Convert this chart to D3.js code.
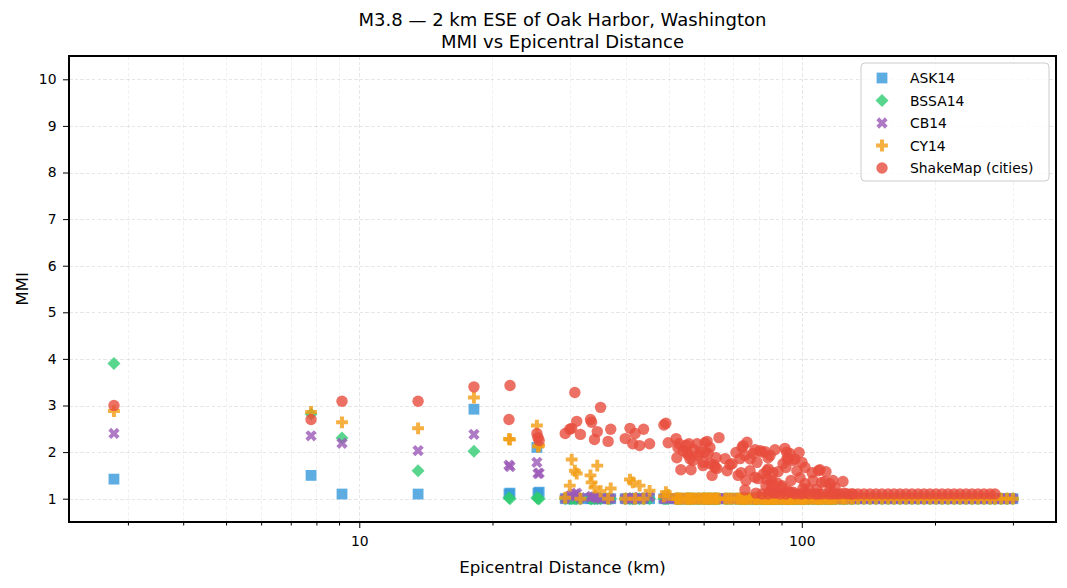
<!DOCTYPE html>
<html>
<head>
<meta charset="utf-8">
<script src="https://cdn.jsdelivr.net/npm/d3@7"></script>
<style>
  body { margin: 0; background: #fff; }
  svg { font-family: "DejaVu Sans", sans-serif; }
</style>
</head>
<body>
<div id="chart"></div>
<script>

// epicentral distance of every city (km)
var distKm = [
  2.79, 7.78, 9.14, 13.58, 18.16, 21.79, 21.91, 25.2, 25.34, 25.5,
  29.2, 29.9, 30.2, 30.7, 31.0, 31.6,
  33.3, 33.5, 34.0, 34.5, 35.1, 36.5, 37.0,
  39.9, 40.9, 41.5, 42.0, 43.0, 43.9, 45.3,
  48.8, 49.3, 49.9, 52.0, 52.2, 52.5, 52.8, 53.3, 53.9, 54.8,
  55.3, 55.6, 56.2, 56.8, 57.1, 58.0, 58.9, 59.8, 60.4, 61.1,
  61.4, 62.0, 62.7, 63.3, 64.0, 64.3, 65.0, 67.1, 67.8, 68.8,
  69.6, 71.0, 71.8, 72.5, 72.9, 73.3, 73.7, 74.4, 74.8, 75.2,
  76.4, 77.6, 78.4, 79.2, 79.6, 80.5, 82.6, 83.0, 83.4, 83.9,
  84.8, 85.6, 86.1, 87.0, 87.4, 87.9, 88.4, 90.2, 90.7, 91.6,
  92.1, 92.6, 93.1, 94.0, 94.5, 95.5, 97.5, 98.6, 99.1, 100.1,
  100.6, 101.7, 105.5, 106.0, 108.2, 109.9, 112.8, 113.4, 115.8, 117.6,
  123.9,
  78.8, 81.3, 89.3, 96.5, 103.8, 107.1, 111.1, 114.6, 119.5, 122.0,
  126.5, 130.5, 134.0, 138.2, 142.6, 147.1, 151.8, 156.7, 161.6, 166.7,
  172.0, 177.4, 183.1, 188.9, 194.9, 201.1, 207.5, 214.1, 220.9, 227.8,
  235.1, 242.5, 250.2, 258.1, 266.3, 273.3,
  55.0, 55.9, 58.4, 59.9, 60.4, 62.0, 63.7, 74.4, 76.4, 78.4,
  81.2, 81.9, 83.3, 84.0, 84.8, 85.5, 90.1, 92.4, 93.2, 95.7,
  96.5, 101.7, 103.5, 109.0, 110.9, 115.8, 118.9,
  83.9, 86.5, 92.1, 94.0, 99.6, 101.2, 108.8, 117.0, 124.6, 129.2,
  282.0, 290.9, 300.0
];

var ask14 = [
  1.42, 1.50, 1.10, 1.10, 2.92, 1.10, 1.12, 2.10, 1.12, 1.14,
  1, 1, 1, 1, 1, 1,
  1, 1, 1, 1, 1, 1, 1,
  1, 1, 1, 1, 1, 1, 1,
  1, 1, 1, 1, 1, 1, 1, 1, 1, 1,
  1, 1, 1, 1, 1, 1, 1, 1, 1, 1,
  1, 1, 1, 1, 1, 1, 1, 1, 1, 1,
  1, 1, 1, 1, 1, 1, 1, 1, 1, 1,
  1, 1, 1, 1, 1, 1, 1, 1, 1, 1,
  1, 1, 1, 1, 1, 1, 1, 1, 1, 1,
  1, 1, 1, 1, 1, 1, 1, 1, 1, 1,
  1, 1, 1, 1, 1, 1, 1, 1, 1, 1,
  1,
  1, 1, 1, 1, 1, 1, 1, 1, 1, 1,
  1, 1, 1, 1, 1, 1, 1, 1, 1, 1,
  1, 1, 1, 1, 1, 1, 1, 1, 1, 1,
  1, 1, 1, 1, 1, 1,
  1, 1, 1, 1, 1, 1, 1, 1, 1, 1,
  1, 1, 1, 1, 1, 1, 1, 1, 1, 1,
  1, 1, 1, 1, 1, 1, 1,
  1, 1, 1, 1, 1, 1, 1, 1, 1, 1,
  1, 1, 1
];

var bssa14 = [
  3.90, 2.82, 2.30, 1.60, 2.02, 1.02, 1.00, 1.02, 1.00, 1.00,
  1, 1, 1, 1, 1, 1,
  1, 1, 1, 1, 1, 1, 1,
  1, 1, 1, 1, 1, 1, 1,
  1, 1, 1, 1, 1, 1, 1, 1, 1, 1,
  1, 1, 1, 1, 1, 1, 1, 1, 1, 1,
  1, 1, 1, 1, 1, 1, 1, 1, 1, 1,
  1, 1, 1, 1, 1, 1, 1, 1, 1, 1,
  1, 1, 1, 1, 1, 1, 1, 1, 1, 1,
  1, 1, 1, 1, 1, 1, 1, 1, 1, 1,
  1, 1, 1, 1, 1, 1, 1, 1, 1, 1,
  1, 1, 1, 1, 1, 1, 1, 1, 1, 1,
  1,
  1, 1, 1, 1, 1, 1, 1, 1, 1, 1,
  1, 1, 1, 1, 1, 1, 1, 1, 1, 1,
  1, 1, 1, 1, 1, 1, 1, 1, 1, 1,
  1, 1, 1, 1, 1, 1,
  1, 1, 1, 1, 1, 1, 1, 1, 1, 1,
  1, 1, 1, 1, 1, 1, 1, 1, 1, 1,
  1, 1, 1, 1, 1, 1, 1,
  1, 1, 1, 1, 1, 1, 1, 1, 1, 1,
  1, 1, 1
];

var cb14 = [
  2.40, 2.35, 2.19, 2.03, 2.38, 1.72, 1.69, 1.78, 1.54, 1.55,
  1.00, 1.05, 1.08, 1.10, 1.12, 1.02,
  1.03, 1.05, 1.04, 1.02, 1.00, 1.00, 1.00,
  1.00, 1.00, 1.02, 1.00, 1.02, 1.00, 1.04,
  1, 1, 1, 1, 1, 1, 1, 1, 1, 1,
  1, 1, 1, 1, 1, 1, 1, 1, 1, 1,
  1, 1, 1, 1, 1, 1, 1, 1, 1, 1,
  1, 1, 1, 1, 1, 1, 1, 1, 1, 1,
  1, 1, 1, 1, 1, 1, 1, 1, 1, 1,
  1, 1, 1, 1, 1, 1, 1, 1, 1, 1,
  1, 1, 1, 1, 1, 1, 1, 1, 1, 1,
  1, 1, 1, 1, 1, 1, 1, 1, 1, 1,
  1,
  1, 1, 1, 1, 1, 1, 1, 1, 1, 1,
  1, 1, 1, 1, 1, 1, 1, 1, 1, 1,
  1, 1, 1, 1, 1, 1, 1, 1, 1, 1,
  1, 1, 1, 1, 1, 1,
  1, 1, 1, 1, 1, 1, 1, 1, 1, 1,
  1, 1, 1, 1, 1, 1, 1, 1, 1, 1,
  1, 1, 1, 1, 1, 1, 1,
  1, 1, 1, 1, 1, 1, 1, 1, 1, 1,
  1, 1, 1
];

var cy14 = [
  2.88, 2.86, 2.64, 2.51, 3.17, 2.28, 2.27, 2.57, 2.12, 2.14,
  1.02, 1.28, 1.84, 1.60, 1.54, 1.00,
  1.50, 1.35, 1.24, 1.71, 1.16, 1.00, 1.22,
  1.00, 1.41, 1.35, 1.00, 1.28, 1.00, 1.17,
  1.05, 1.14, 1.08, 1, 1, 1, 1, 1, 1, 1,
  1, 1, 1, 1, 1, 1, 1, 1, 1, 1,
  1, 1, 1, 1, 1, 1, 1, 1, 1, 1,
  1, 1, 1, 1, 1, 1, 1, 1, 1, 1,
  1, 1, 1, 1, 1, 1, 1, 1, 1, 1,
  1, 1, 1, 1, 1, 1, 1, 1, 1, 1,
  1, 1, 1, 1, 1, 1, 1, 1, 1, 1,
  1, 1, 1, 1, 1, 1, 1, 1, 1, 1,
  1,
  1, 1, 1, 1, 1, 1, 1, 1, 1, 1,
  1, 1, 1, 1, 1, 1, 1, 1, 1, 1,
  1, 1, 1, 1, 1, 1, 1, 1, 1, 1,
  1, 1, 1, 1, 1, 1,
  1, 1, 1, 1, 1, 1, 1, 1, 1, 1,
  1, 1, 1, 1, 1, 1, 1, 1, 1, 1,
  1, 1, 1, 1, 1, 1, 1,
  1, 1, 1, 1, 1, 1, 1, 1, 1, 1,
  1, 1, 1
];

// observed ShakeMap intensity at the cities (null = no city value)
var shakemap = [
  3.00, 2.70, 3.09, 3.09, 3.40, 2.70, 3.43, 2.40, 2.31, 2.25,
  2.40, 2.49, 2.51, 3.28, 2.66, 2.38,
  2.70, 2.64, 2.27, 2.44, 2.96, 2.23, 2.49,
  2.29, 2.51, 2.18, 2.40, 2.14, 2.49, 2.18,
  2.58, 2.62, 2.20, 2.29, 1.88, 2.10, 2.18, 1.62, 2.03, 2.15,
  1.95, 2.18, 1.62, 1.82, 2.05, 2.18, 1.99, 1.71, 2.20, 2.23,
  1.97, 2.10, 1.50, 1.73, 1.88, 1.65, 2.31, 1.86, 1.60, 1.73,
  1.75, 1.99, 1.50, 1.86, 1.56, 2.10, 2.14, 1.19, 1.39, 2.21,
  1.60, 1.97, 2.05, 1.78, 1.43, 2.03, 2.01, 1.28, 1.60, 1.88,
  1.17, 1.39, 1.56, 2.05, 1.13, 1.34, 1.58, 1.28, 1.75, 2.08,
  1.67, 1.86, 1.17, 1.97, 1.39, 1.82, 1.60, 1.99, 1.45, 1.78,
  1.22, 1.67, 1.56, 1.39, 1.20, 1.62, 1.37, 1.58, 1.22, 1.39,
  1.37,
  1.12, 1.10, 1.10, 1.10, 1.10, 1.10, 1.10, 1.10, 1.10, 1.10,
  1.10, 1.10, 1.10, 1.10, 1.10, 1.10, 1.10, 1.10, 1.10, 1.10,
  1.10, 1.10, 1.10, 1.10, 1.10, 1.10, 1.10, 1.10, 1.10, 1.10,
  1.10, 1.10, 1.10, 1.10, 1.10, 1.10,
  2.00, 1.85, 1.93, 1.78, 2.00, 1.75, 1.67, 1.93, 1.85, 1.46,
  2.00, 1.53, 1.42, 1.64, 1.93, 1.32, 1.24, 2.00, 1.85, 1.14,
  1.85, 1.32, 1.21, 1.60, 1.35, 1.32, 1.24,
  1.10, 1.12, 1.10, 1.14, 1.10, 1.12, 1.10, 1.10, 1.12, 1.10,
  null, null, null
];

var seriesNames = ["ASK14", "BSSA14", "CB14", "CY14", "ShakeMap (cities)"];
var yTicks = [1, 2, 3, 4, 5, 6, 7, 8, 9, 10];
var xTicks = [10, 100];

function markerPath( kind ){

  if (kind === "square") return "M-5.4,-5.4H5.4V5.4H-5.4Z";
  if (kind === "diamond") return "M0,-6.5L6.5,0L0,6.5L-6.5,0Z";
  if (kind === "circle") return d3.symbol(d3.symbolCircle, Math.PI * 5.7 * 5.7)();

  // filled plus ("P") and filled x ("X"), arm thickness = 1/3 of width
  var h = kind === "x" ? 6.0 : 5.9, t = h / 3;
  var p = [[-t,-h],[t,-h],[t,-t],[h,-t],[h,t],[t,t],[t,h],[-t,h],[-t,t],[-h,t],[-h,-t],[-t,-t]];
  if (kind === "x") {
    var c = Math.SQRT1_2;
    p = p.map(function(q){ return [ (q[0] - q[1]) * c, (q[0] + q[1]) * c ]; });
  }
  return "M" + p.map(function(q){ return q[0].toFixed(2) + "," + q[1].toFixed(2); }).join("L") + "Z";
}

function renderChart(){

  var width = 1067, height = 588;
  var left = 69, right = 1056, top = 56, bottom = 522;

  var series = [
    { name: seriesNames[0], values: ask14,    color: "#3498db", kind: "square" },
    { name: seriesNames[1], values: bssa14,   color: "#2ecc71", kind: "diamond" },
    { name: seriesNames[2], values: cb14,     color: "#9b59b6", kind: "x" },
    { name: seriesNames[3], values: cy14,     color: "#f39c12", kind: "plus" },
    { name: seriesNames[4], values: shakemap, color: "#e74c3c", kind: "circle" }
  ];

  series.forEach(function(s){
    if (s.values.length !== distKm.length) console.warn(s.name + " length " + s.values.length + " vs " + distKm.length);
  });

  var x = d3.scaleLog().domain([2.208, 375.4]).range([left, right]);
  var y = d3.scaleLinear().domain([0.5, 10.5]).range([bottom, top]);

  var svg = d3.select("#chart").append("svg")
      .attr("width", width)
      .attr("height", height);

  svg.append("rect").attr("width", width).attr("height", height).attr("fill", "#fff");

  // grid: major + minor on the log axis, majors on y
  var minorX = x.ticks().filter(function(d){ return xTicks.indexOf(d) < 0; });

  var grid = svg.append("g").attr("class", "grid")
      .attr("stroke", "#b0b0b0")
      .attr("stroke-dasharray", "3.5,2.2")
      .attr("shape-rendering", "crispEdges");

  grid.selectAll("line.minor")
      .data(minorX)
      .enter().append("line")
      .attr("x1", function(d){ return Math.round(x(d)) + 0.5; })
      .attr("x2", function(d){ return Math.round(x(d)) + 0.5; })
      .attr("y1", top).attr("y2", bottom)
      .attr("stroke-opacity", 0.3)
      .attr("stroke-width", 0.6);

  grid.selectAll("line.majx")
      .data(xTicks)
      .enter().append("line")
      .attr("x1", function(d){ return Math.round(x(d)) + 0.5; })
      .attr("x2", function(d){ return Math.round(x(d)) + 0.5; })
      .attr("y1", top).attr("y2", bottom)
      .attr("stroke-opacity", 0.4)
      .attr("stroke-width", 0.8);

  grid.selectAll("line.majy")
      .data(yTicks)
      .enter().append("line")
      .attr("x1", left).attr("x2", right)
      .attr("y1", function(d){ return Math.round(y(d)) + 0.5; })
      .attr("y2", function(d){ return Math.round(y(d)) + 0.5; })
      .attr("stroke-opacity", 0.4)
      .attr("stroke-width", 0.8);

  // markers, one layer per series in legend order
  series.forEach(function(s){

    var pts = distKm.map(function(d, i){ return { d: d, v: s.values[i] }; })
                    .filter(function(p){ return p.v !== null; });

    svg.append("g")
        .selectAll("path")
        .data(pts)
        .enter().append("path")
        .attr("d", markerPath(s.kind))
        .attr("transform", function(p){ return "translate(" + x(p.d) + "," + y(p.v) + ")"; })
        .attr("fill", s.color)
        .attr("fill-opacity", 0.8);
  });

  // axes
  var xAxis = svg.append("g").attr("transform", "translate(0," + bottom + ")");
  xAxis.call(d3.axisBottom(x).tickValues(minorX).tickSize(3.5).tickFormat(""));
  xAxis.append("g").call(d3.axisBottom(x).tickValues(xTicks).tickSize(6).tickPadding(8).tickFormat(d3.format("d")));

  var yAxis = svg.append("g").attr("transform", "translate(" + left + ",0)");
  yAxis.call(d3.axisLeft(y).tickValues(yTicks).tickSize(6).tickPadding(6.5).tickFormat(d3.format("d")));

  svg.selectAll(".domain").remove();
  svg.selectAll(".tick line").attr("stroke", "#000").attr("stroke-width", 1);
  svg.selectAll(".tick text")
      .attr("fill", "#000")
      .style("font-size", "13.9px")
      .style("font-family", "DejaVu Sans, sans-serif");

  svg.append("rect")
      .attr("x", left).attr("y", top)
      .attr("width", right - left).attr("height", bottom - top)
      .attr("fill", "none")
      .attr("stroke", "#000")
      .attr("stroke-width", 1.1)
      .attr("shape-rendering", "crispEdges");

  // labels
  svg.append("text")
      .attr("x", (left + right) / 2).attr("y", 573)
      .attr("text-anchor", "middle")
      .style("font-size", "16.7px")
      .text("Epicentral Distance (km)");

  svg.append("text")
      .attr("transform", "translate(28," + ((top + bottom) / 2) + ") rotate(-90)")
      .attr("text-anchor", "middle")
      .style("font-size", "16.7px")
      .text("MMI");

  var title = svg.append("text")
      .attr("text-anchor", "middle")
      .style("font-size", "18px");
  title.append("tspan").attr("x", (left + right) / 2).attr("y", 26)
      .text("M3.8 \u2014 2 km ESE of Oak Harbor, Washington");
  title.append("tspan").attr("x", (left + right) / 2).attr("y", 47.5)
      .text("MMI vs Epicentral Distance");

  // legend
  var legend = svg.append("g").attr("transform", "translate(861,63)");

  legend.append("rect")
      .attr("width", 188).attr("height", 118)
      .attr("rx", 4).attr("ry", 4)
      .attr("fill", "#fff").attr("fill-opacity", 0.8)
      .attr("stroke", "#cccccc").attr("stroke-width", 1);

  var row = legend.selectAll("g.row")
      .data(series)
      .enter().append("g")
      .attr("class", "row")
      .attr("transform", function(d, i){ return "translate(0," + (15 + i * 22.5) + ")"; });

  row.append("path")
      .attr("d", function(d){ return markerPath(d.kind); })
      .attr("transform", "translate(21,0)")
      .attr("fill", function(d){ return d.color; })
      .attr("fill-opacity", 0.8);

  row.append("text")
      .attr("x", 49).attr("y", 5)
      .style("font-size", "13.9px")
      .text(function(d){ return d.name; });
}

renderChart();

</script>
</body>
</html>
